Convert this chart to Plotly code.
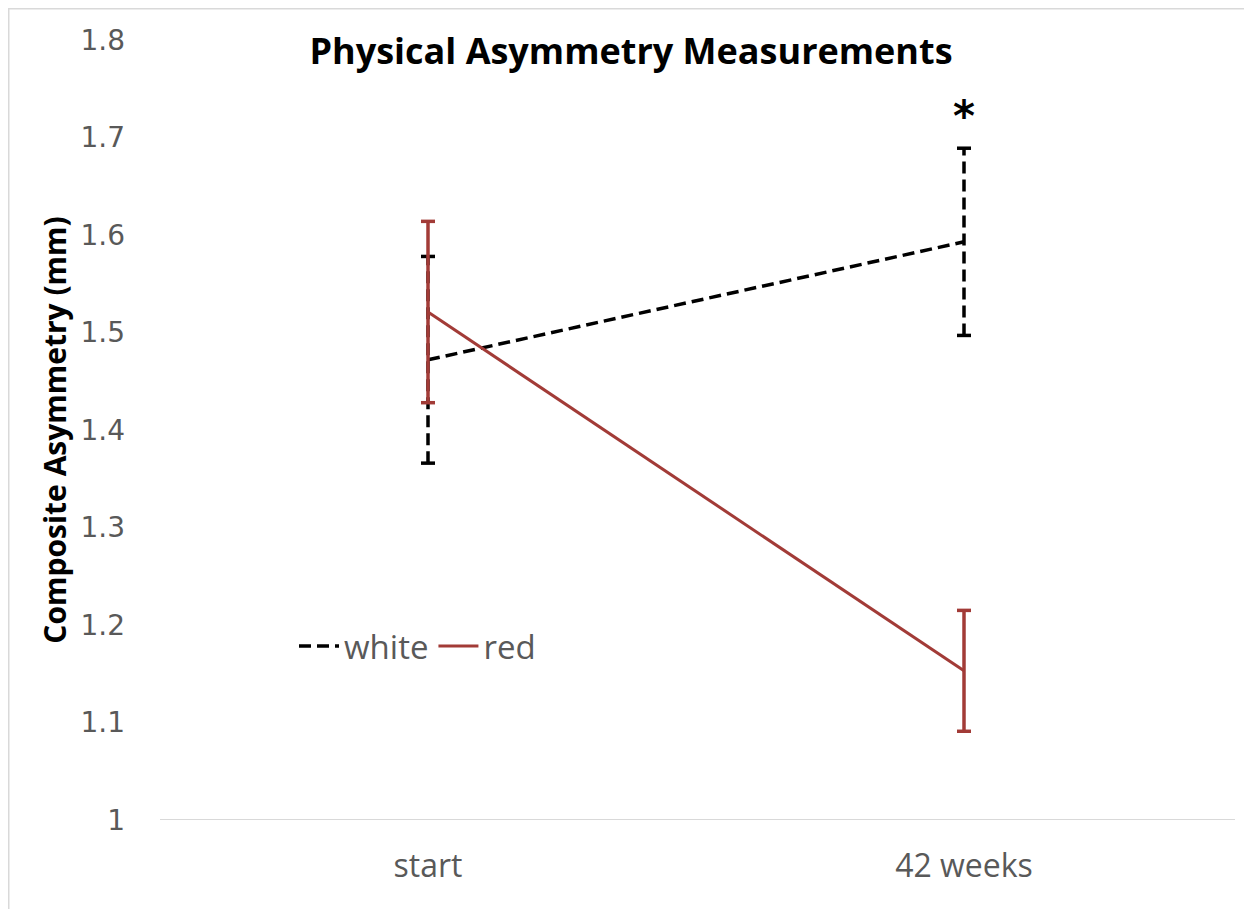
import plotly.graph_objects as go

categories = ["start", "42 weeks"]
white_mean = [1.472, 1.593]
white_err = [0.106, 0.096]
red_mean = [1.521, 1.153]
red_err = [0.093, 0.062]
y_ticks = [1.0, 1.1, 1.2, 1.3, 1.4, 1.5, 1.6, 1.7, 1.8]
y_tick_labels = ["1", "1.1", "1.2", "1.3", "1.4", "1.5", "1.6", "1.7", "1.8"]

WHITE_COLOR = "#000000"
RED_COLOR = "#A23B37"
TICK_COLOR = "#595959"
FONT = "Open Sans"

# page has an 8px body margin: figure is sized so the plot lands where the reference has it
W, H = 1244, 901
ML, MR, MT, MB = 152, 20, 32, 89
PW = W - ML - MR
PH = H - MT - MB


def err_segments(cats, means, errs):
    xs, ys = [], []
    for c, m, e in zip(cats, means, errs):
        xs += [c, c, None]
        ys += [m - e, m + e, None]
    return xs, ys


def cap_points(cats, means, errs):
    xs, ys = [], []
    for c, m, e in zip(cats, means, errs):
        xs += [c, c]
        ys += [m - e, m + e]
    return xs, ys


fig = go.Figure()

# white error bars (dashed)
wx, wy = err_segments(categories, white_mean, white_err)
fig.add_trace(go.Scatter(x=wx, y=wy, mode="lines", showlegend=False,
                         line=dict(color=WHITE_COLOR, width=3.5, dash="12px,6px"),
                         hoverinfo="skip"))
cx, cy = cap_points(categories, white_mean, white_err)
fig.add_trace(go.Scatter(x=cx, y=cy, mode="markers", showlegend=False,
                         marker=dict(symbol="line-ew-open", size=10, color=WHITE_COLOR,
                                     line=dict(color=WHITE_COLOR, width=3.5)),
                         hoverinfo="skip"))

# white line
fig.add_trace(go.Scatter(x=categories, y=white_mean, mode="lines", name="white",
                         line=dict(color=WHITE_COLOR, width=3.5, dash="12px,6px")))

# red error bars
rx, ry = err_segments(categories, red_mean, red_err)
fig.add_trace(go.Scatter(x=rx, y=ry, mode="lines", showlegend=False,
                         line=dict(color=RED_COLOR, width=3.5),
                         hoverinfo="skip"))
cx, cy = cap_points(categories, red_mean, red_err)
fig.add_trace(go.Scatter(x=cx, y=cy, mode="markers", showlegend=False,
                         marker=dict(symbol="line-ew-open", size=10, color=RED_COLOR,
                                     line=dict(color=RED_COLOR, width=3.5)),
                         hoverinfo="skip"))

# red line
fig.add_trace(go.Scatter(x=categories, y=red_mean, mode="lines", name="red",
                         line=dict(color=RED_COLOR, width=3)))

# significance asterisk
fig.add_annotation(x=categories[1], y=white_mean[1] + white_err[1], yshift=32,
                   text="<b>*</b>", showarrow=False,
                   font=dict(family="DejaVu Sans", size=42, color="#000000"))

# chart border (top and left edges visible)
bx = -ML / PW
by = 1 + MT / PH
fig.add_shape(type="line", xref="paper", yref="paper",
              x0=bx, x1=1 + MR / PW, y0=by, y1=by,
              line=dict(color="#D9D9D9", width=3))
fig.add_shape(type="line", xref="paper", yref="paper",
              x0=bx, x1=bx, y0=-MB / PH, y1=by,
              line=dict(color="#D9D9D9", width=3))

fig.update_layout(
    width=W, height=H,
    margin=dict(l=ML, r=MR, t=MT, b=MB),
    paper_bgcolor="white", plot_bgcolor="white",
    title=dict(text="<b>Physical Asymmetry Measurements</b>", x=(631 - 8) / W, xanchor="center",
               y=1 - (51 - 8) / H, yanchor="middle",
               font=dict(family=FONT, size=36, color="#000000")),
    xaxis=dict(type="category", range=[-0.5, 1.5], showgrid=False, zeroline=False,
               showline=False, ticks="", tickfont=dict(family=FONT, size=32, color=TICK_COLOR),
               ticklabelstandoff=24),
    yaxis=dict(range=[1.0, 1.8], tickvals=y_ticks, ticktext=y_tick_labels,
               showgrid=False, zeroline=False, showline=False, ticks="",
               tickfont=dict(family="DejaVu Sans", size=28, color=TICK_COLOR),
               ticklabelstandoff=34,
               title=dict(text="<b>Composite Asymmetry (mm)</b>", standoff=4,
                          font=dict(family=FONT, size=30, color="#000000"))),
    legend=dict(orientation="h", x=(294 - 160) / PW, y=(820 - 646) / PH,
                xanchor="left", yanchor="middle", bgcolor="rgba(0,0,0,0)",
                font=dict(family=FONT, size=33, color=TICK_COLOR),
                itemwidth=40, tracegroupgap=0),
    showlegend=True,
)

# x axis baseline at y=1.0
fig.add_shape(type="line", xref="paper", yref="y", x0=0, x1=(1235 - 160) / PW,
              y0=1.0, y1=1.0, line=dict(color="#D9D9D9", width=2), layer="below")

fig.write_html("out.html")
